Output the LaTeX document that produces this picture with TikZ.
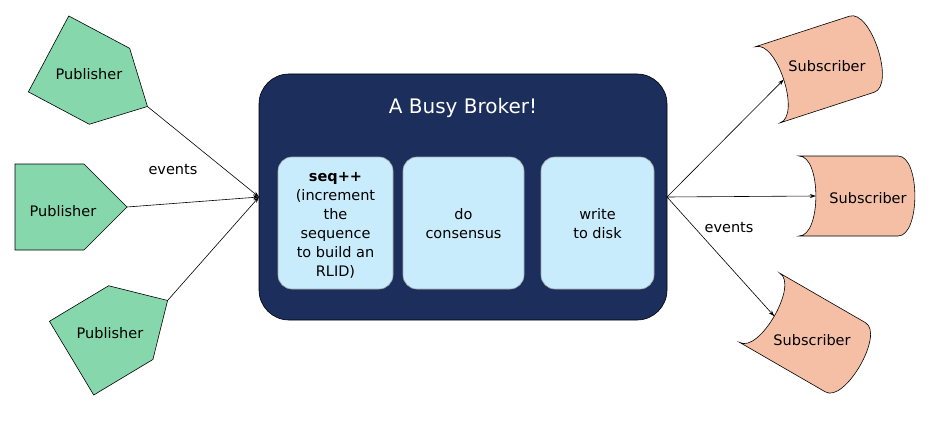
\documentclass[tikz,border=0pt]{standalone}
\usepackage{fontspec}
\setmainfont{DejaVu Sans}
\usetikzlibrary{arrows.meta}
\definecolor{pubgreen}{HTML}{86D8AC}
\definecolor{subsalmon}{HTML}{F5BFA6}
\definecolor{navy}{HTML}{1C2E5C}
\definecolor{lightbox}{HTML}{C8ECFC}
\tikzset{
  pubshape/.style={draw=black, fill=pubgreen, line width=0.6pt, line join=miter},
  subshape/.style={draw=black, fill=subsalmon, line width=0.6pt},
  label/.style={font=\fontsize{14.5}{17}\selectfont, text=black, inner sep=0pt},
  inner/.style={draw=gray!70, fill=lightbox, rounded corners=14pt, line width=0.6pt},
  boxtext/.style={font=\fontsize{14.5}{19}\selectfont, align=center, inner sep=0pt, text=black},
  conn/.style={draw=black, line width=0.6pt, -{Stealth[length=6pt,width=4pt]}},
}
\newcommand{\pubpath}{(-56,-43) -- (13,-43) -- (56,0) -- (13,43) -- (-56,43) -- cycle}
\newcommand{\subpath}{(-49.5,-40) -- (49.5,-40) .. controls (72,-40) and (72,40) .. (49.5,40) -- (-49.5,40) .. controls (-27,40) and (-27,-40) .. (-49.5,-40) -- cycle}
\begin{document}
\begin{tikzpicture}[x=1pt,y=-1pt]
\useasboundingbox (0,0) rectangle (931,425);

% Broker
\draw[fill=navy, draw=black, line width=0.6pt, rounded corners=30pt] (259,74) rectangle (667,320);
\node[font=\fontsize{20}{24}\selectfont, text=white, inner sep=0pt] (title) at (463,108) {A Busy Broker!};
\coordinate (bin) at (259,197);
\coordinate (bout) at (667,197);

\draw[inner] (278,157) rectangle (393,289);
\draw[inner] (403,157) rectangle (524,289);
\draw[inner] (541,157) rectangle (654,289);
\node[boxtext] (seq) at (335.5,225) {\textbf{seq++}\\(increment\\the\\sequence\\to build an\\RLID)};
\node[boxtext] (cons) at (463.5,223.5) {do\\consensus};
\node[boxtext] (disk) at (597.5,223.5) {write\\to disk};

% Publishers
\begin{scope}[shift={(98,80.2)}, rotate=-28]
  \draw[pubshape] \pubpath;
  \coordinate (p1tip) at (56,0);
\end{scope}
\node[label] (p1) at (89,74) {Publisher};

\begin{scope}[shift={(71,207)}]
  \draw[pubshape] \pubpath;
  \coordinate (p2tip) at (56,0);
\end{scope}
\node[label] (p2) at (63,211) {Publisher};

\begin{scope}[shift={(119.6,329.3)}, rotate=31]
  \draw[pubshape] \pubpath;
  \coordinate (p3tip) at (56,0);
\end{scope}
\node[label] (p3) at (110,333) {Publisher};

% Subscribers
\begin{scope}[shift={(814.75,69.5)}, rotate=18]
  \draw[subshape] \subpath;
  \coordinate (s1in) at (-32.6,0);
\end{scope}
\node[label] (s1) at (827,66) {Subscriber};

\begin{scope}[shift={(848.5,196)}]
  \draw[subshape] \subpath;
  \coordinate (s2in) at (-32.6,0);
\end{scope}
\node[label] (s2) at (868,198) {Subscriber};

\begin{scope}[shift={(802.5,332.5)}, rotate=-30]
  \draw[subshape] \subpath;
  \coordinate (s3in) at (-32.6,0);
\end{scope}
\node[label] (s3) at (812,340) {Subscriber};

% Connectors
\draw[conn] (p1tip) -- (bin);
\draw[conn] (p2tip) -- (bin);
\draw[conn] (p3tip) -- (bin);
\draw[conn] (bout) -- (s1in);
\draw[conn] (bout) -- (s2in);
\draw[conn] (bout) -- (s3in);

\node[label] (ev1) at (173,170) {events};
\node[label] (ev2) at (729,228) {events};
\end{tikzpicture}
\end{document}
